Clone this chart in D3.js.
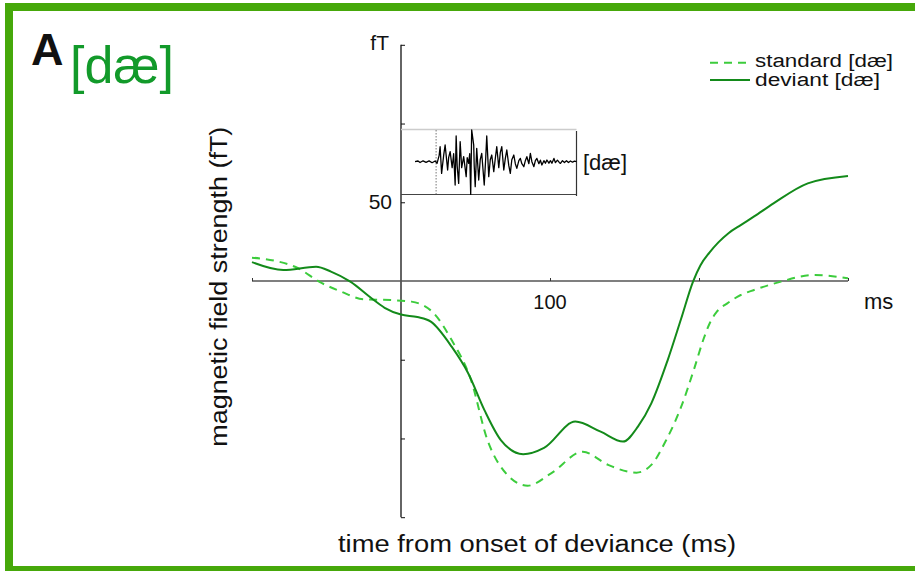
<!DOCTYPE html>
<html>
<head>
<meta charset="utf-8">
<script src="https://d3js.org/d3.v7.min.js"></script>
<style>
  body { margin: 0; background: #fff; }
  text { font-family: "Liberation Sans", Arial, sans-serif; fill: #111; }
</style>
</head>
<body>
<div id="chart"></div>
<script>
// main curves, time in ms from onset of deviance, amplitude in fT
var devTime  = [-100, -79, -57, -47, -34, -20, -11, 0, 11, 20, 34, 45, 56, 67, 82, 96, 117, 134, 149, 159, 168, 179, 188, 196, 201, 207, 213, 220, 228, 237, 250, 273, 300];
var devValue = [12, 7, 9, 6, -0.4, -10.8, -17, -21.3, -22.9, -25.8, -41.7, -58.4, -82, -101, -110, -106, -89.3, -95.7, -102, -92.5, -77.7, -50.2, -24, -0.4, 10, 18, 24.5, 30.5, 35.5, 41, 49.3, 62, 66.7];

var stdTime  = [-100, -85, -69, -55, -40, -25, -7, 7, 22, 34, 47, 58, 67, 85, 101, 122, 139, 158, 168, 178, 188, 197, 203, 207.6, 212, 219, 228, 237, 255, 277, 300];
var stdValue = [14.8, 12.9, 8.1, -0.4, -6.8, -11.6, -12.1, -13.1, -20.5, -37.5, -62.9, -101, -118, -130, -122, -108.4, -116.8, -121.7, -116.8, -101, -80, -55, -37, -26, -19.5, -14.2, -8.9, -5.7, -0.4, 3.8, 1.7];

// inset waveform of the [dae] stimulus
var insetTime  = [28, 34, 38, 44, 50, 56, 62, 68, 72, 76, 78, 81, 85, 88, 93, 95, 98, 102, 105, 108, 110, 112, 115, 118, 121, 125, 127, 130, 132, 135, 137, 139, 141, 145, 146, 148, 151, 155, 158, 161, 166, 169, 171, 175, 178, 181, 185, 188, 191, 195, 198, 201, 205, 208, 211, 215, 218, 221, 225, 228, 231, 235, 238, 241, 245, 248, 251, 255, 258, 261, 265, 268, 271, 275, 278, 281, 285, 288, 291, 295, 298, 301, 305, 308, 312, 316, 318, 322, 326, 330, 334, 338, 342, 346, 350];
var insetValue = [0, 0.7, -0.8, 0.9, -0.6, 0.8, -1, 0.7, -1.5, 6, 15, -11.7, 6, 16.7, -8.3, 4, 10, -6, 8, -23.3, 25.7, -4, -21.7, 20, -6, 5, -3, -15, 4, -1.7, 8, -32.7, 31.7, 16.7, -4, -25, 13.3, -18.3, 2, 8.3, -23.3, 4, 25.7, -15, 2, 6.7, -10, 3, 15, -6, 9, 15, -8.3, 3, 11.7, -4, -11.7, 2, 6.7, -2, -6.7, 1, 3.3, -2, -5, 1, 5, -2, 8.3, 0, -5, 1, 3.3, -2, 1.5, -3.3, 1, -1.5, 1.7, -1.5, 1, -1.5, 3.3, -1, 1.5, -1, -1.7, 1, -0.8, 1, -0.8, 0.7, -0.5, 0.5, 0];
var insetOnset = 70;

var xTicks = [-100, 100, 200, 300];
var xTickLabels = ["", "100", "", ""];
var yTicks = [150, 100, 50, -50, -100, -150];
var yTickLabels = ["", "", "50", "", "", ""];

var width = 915, height = 571;
var green = "#46a80a", darkGreen = "#138a1a", lightGreen = "#3ccc3c";

var svg = d3.select("#chart").append("svg")
    .attr("width", width)
    .attr("height", height);

// frame
svg.append("rect")
    .attr("x", 9).attr("y", 7)
    .attr("width", 1000).attr("height", 563)
    .attr("fill", "none")
    .attr("stroke", green)
    .attr("stroke-width", 8);

var x = d3.scaleLinear().domain([-100, 300]).range([252, 848]);
var y = d3.scaleLinear().domain([-150, 150]).range([517.2, 44.8]);

// y axis, ticks pointing inward
var yAxis = svg.append("g")
    .attr("transform", "translate(" + x(0) + ",0)")
    .call(d3.axisRight(y).tickValues(yTicks).tickSize(4).tickFormat(""));
yAxis.select(".domain").attr("d", "M0," + y(150) + "V" + y(-150)).attr("stroke", "#111").attr("stroke-width", 1.3);
yAxis.selectAll(".tick line").attr("stroke", "#111");

yAxis.selectAll(".ylab")
    .data(yTicks)
    .enter().append("text")
    .attr("x", -9)
    .attr("y", d => y(d) + 7)
    .attr("text-anchor", "end")
    .style("font-size", "21px")
    .text((d, i) => yTickLabels[i]);

svg.append("text")
    .attr("x", 389).attr("y", 50)
    .attr("text-anchor", "end")
    .style("font-size", "21px")
    .text("fT");

// x axis along zero
var xAxis = svg.append("g")
    .attr("transform", "translate(0," + y(0) + ")")
    .call(d3.axisTop(x).tickValues(xTicks).tickSize(3).tickFormat(""));
xAxis.select(".domain").attr("d", "M" + x(-100) + ",0H" + x(300)).attr("stroke", "#555").attr("stroke-width", 1.6);
xAxis.selectAll(".tick line").attr("stroke", "#333");

xAxis.selectAll(".xlab")
    .data(xTicks)
    .enter().append("text")
    .attr("x", d => x(d))
    .attr("y", 28)
    .attr("text-anchor", "middle")
    .style("font-size", "20px")
    .text((d, i) => xTickLabels[i]);

svg.append("text")
    .attr("x", 864).attr("y", 309)
    .style("font-size", "22px")
    .text("ms");

// curves
var line = d3.line().curve(d3.curveMonotoneX);

svg.append("path")
    .attr("d", line(stdTime.map((t, i) => [x(t), y(stdValue[i])])))
    .attr("fill", "none")
    .attr("stroke", lightGreen)
    .attr("stroke-width", 2)
    .attr("stroke-dasharray", "8,6");

svg.append("path")
    .attr("d", line(devTime.map((t, i) => [x(t), y(devValue[i])])))
    .attr("fill", "none")
    .attr("stroke", darkGreen)
    .attr("stroke-width", 2);

// inset
var ix = d3.scaleLinear().domain([0, 350]).range([401, 576.5]);
var iy = d3.scaleLinear().domain([-35, 35]).range([196.7, 126.7]);
var inset = svg.append("g");

inset.append("line")
    .attr("x1", ix(0)).attr("x2", ix(350))
    .attr("y1", 129.5).attr("y2", 129.5)
    .attr("stroke", "#ccc").attr("stroke-width", 1.5);
inset.append("line")
    .attr("x1", ix(0)).attr("x2", ix(350))
    .attr("y1", 194.5).attr("y2", 194.5)
    .attr("stroke", "#444").attr("stroke-width", 1.2);
inset.append("line")
    .attr("x1", ix(350)).attr("x2", ix(350))
    .attr("y1", 131).attr("y2", 196)
    .attr("stroke", "#333").attr("stroke-width", 1.2);
inset.append("line")
    .attr("x1", ix(insetOnset)).attr("x2", ix(insetOnset))
    .attr("y1", 130).attr("y2", 196)
    .attr("stroke", "#555").attr("stroke-width", 0.8)
    .attr("stroke-dasharray", "1.5,1.5");

inset.append("path")
    .attr("d", d3.line()(insetTime.map((t, i) => [ix(t), iy(insetValue[i])])))
    .attr("fill", "none")
    .attr("stroke", "#000")
    .attr("stroke-width", 1.3)
    .attr("stroke-linejoin", "round");

inset.append("text")
    .attr("x", 583).attr("y", 170)
    .style("font-size", "22px")
    .text("[dæ]");

// legend
var legend = [
    {label: "standard [dæ]", color: lightGreen, dash: "8,6", y: 62.7, base: 67, w: 138},
    {label: "deviant [dæ]", color: darkGreen, dash: null, y: 80, base: 86, w: 125}
];
legend.forEach(function (l) {
    svg.append("line")
        .attr("x1", 710).attr("x2", 750)
        .attr("y1", l.y).attr("y2", l.y)
        .attr("stroke", l.color)
        .attr("stroke-width", 2)
        .attr("stroke-dasharray", l.dash);
    svg.append("text")
        .attr("x", 755).attr("y", l.base)
        .attr("textLength", l.w)
        .attr("lengthAdjust", "spacingAndGlyphs")
        .style("font-size", "18px")
        .text(l.label);
});

// titles
svg.append("text")
    .attr("x", 31).attr("y", 65)
    .style("font-size", "45px")
    .style("font-weight", "bold")
    .text("A");

svg.append("text")
    .attr("x", 70).attr("y", 82.5)
    .style("font-size", "52px")
    .style("fill", "#129a2a")
    .text("[dæ]");

svg.append("text")
    .attr("transform", "translate(226.8,286.7) rotate(-90)")
    .attr("text-anchor", "middle")
    .attr("textLength", 320)
    .attr("lengthAdjust", "spacingAndGlyphs")
    .style("font-size", "23px")
    .text("magnetic field strength (fT)");

svg.append("text")
    .attr("x", 537).attr("y", 552)
    .attr("text-anchor", "middle")
    .attr("textLength", 398)
    .attr("lengthAdjust", "spacingAndGlyphs")
    .style("font-size", "23px")
    .text("time from onset of deviance (ms)");
</script>
</body>
</html>
